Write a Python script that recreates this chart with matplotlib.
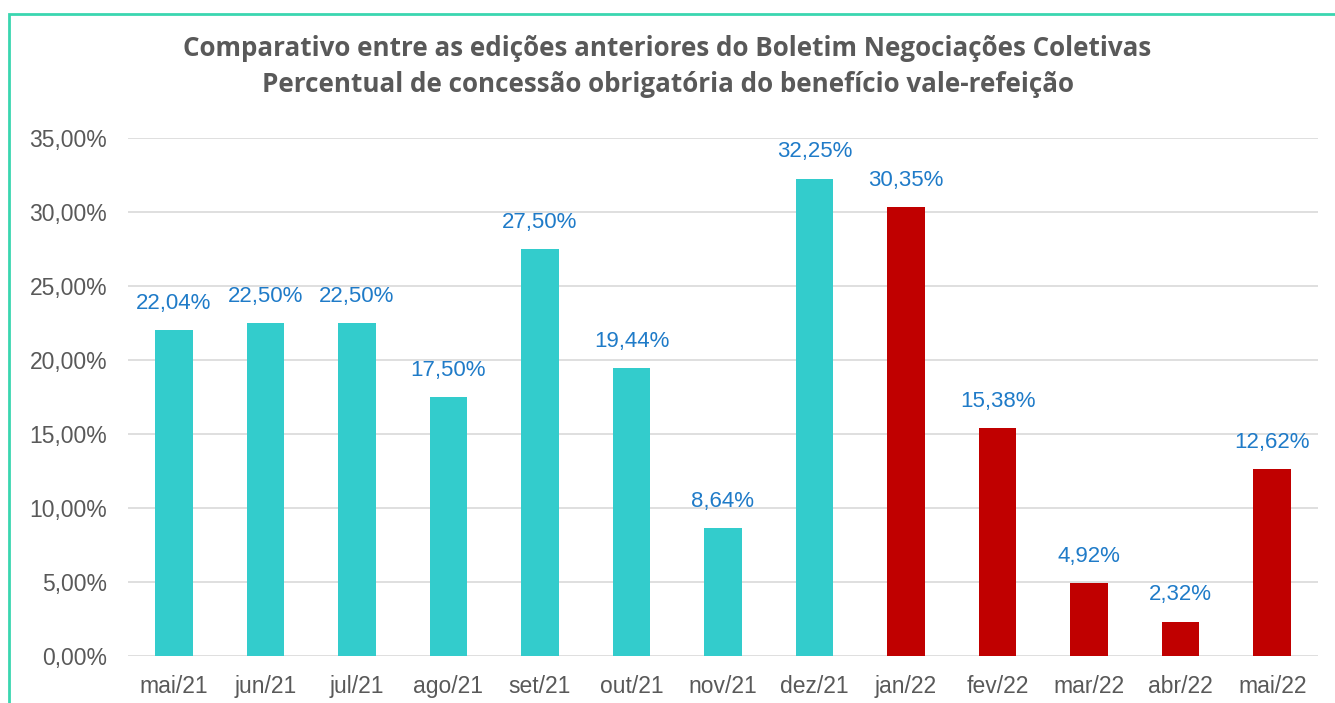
import matplotlib.pyplot as plt
import matplotlib.patches as mpatches
from matplotlib.ticker import FuncFormatter

months = ["mai/21", "jun/21", "jul/21", "ago/21", "set/21", "out/21", "nov/21",
          "dez/21", "jan/22", "fev/22", "mar/22", "abr/22", "mai/22"]
values = [22.04, 22.50, 22.50, 17.50, 27.50, 19.44, 8.64,
          32.25, 30.35, 15.38, 4.92, 2.32, 12.62]
n_2021 = 8  # first 8 editions are 2021 (teal), rest 2022 (red)

colors = ["#33CCCC"] * n_2021 + ["#C00000"] * (len(months) - n_2021)

fig = plt.figure(figsize=(13.35, 7.03), dpi=100)
ax = fig.add_axes([128 / 1335, 1 - 656 / 703, 1190 / 1335, 518 / 703])

x = range(len(months))
bars = ax.bar(x, values, width=0.41, color=colors, zorder=3)

for xi, v in zip(x, values):
    ax.text(xi, v + 1.1, f"{v:.2f}%".replace(".", ","), ha="center", va="bottom",
            fontsize=16, color="#1F7BC8", family="Liberation Sans")

ax.set_ylim(0, 35)
ax.set_xlim(-0.5, len(months) - 0.5)
ax.set_yticks([0, 5, 10, 15, 20, 25, 30, 35])
ax.yaxis.set_major_formatter(FuncFormatter(lambda v, p: f"{v:.2f}%".replace(".", ",")))
ax.set_xticks(list(x))
ax.set_xticklabels(months)
ax.grid(axis="y", color="#D9D9D9", linewidth=1.2, zorder=0)
ax.tick_params(axis="both", length=0, labelsize=16.5, labelcolor="#595959")
ax.tick_params(axis="y", pad=15)
ax.tick_params(axis="x", pad=14)
for lbl in ax.get_xticklabels() + ax.get_yticklabels():
    lbl.set_family("Liberation Sans")
for s in ax.spines.values():
    s.set_visible(False)

fig.text(0.5, 1 - 48 / 703, "Comparativo entre as edições anteriores do Boletim Negociações Coletivas",
         ha="center", va="center", fontsize=18.7, fontweight="bold", color="#595959", family="Open Sans")
fig.text(0.5, 1 - 85 / 703, "Percentual de concessão obrigatória do benefício vale-refeição",
         ha="center", va="center", fontsize=18.7, fontweight="bold", color="#595959", family="Open Sans")

# chart frame (only top/left visible in the crop)
fig.patches.append(mpatches.Rectangle((9 / 1335, -0.1), 1.1, 1 - 14 / 703 + 0.1,
                                      transform=fig.transFigure, fill=False,
                                      edgecolor="#3AD6B0", linewidth=2))

fig.savefig("out.png", dpi=100)
